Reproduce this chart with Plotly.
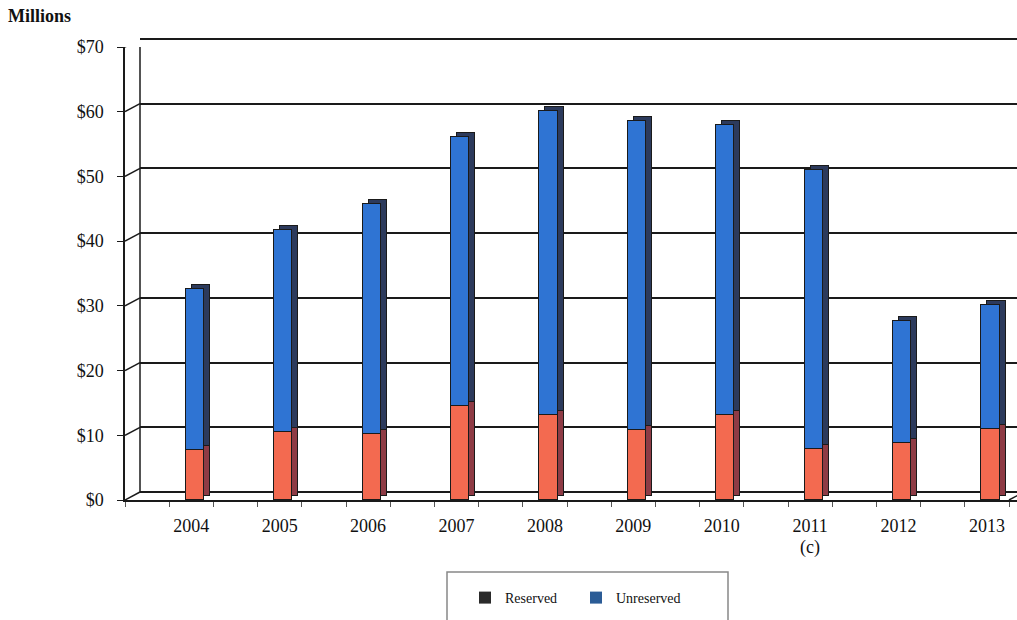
import plotly.graph_objects as go

years = ["2004", "2005", "2006", "2007", "2008", "2009", "2010", "2011", "2012", "2013"]
reserved = [7.7, 10.5, 10.2, 14.5, 13.1, 10.8, 13.1, 7.9, 8.8, 11.0]
total = [32.6, 41.7, 45.7, 56.1, 60.1, 58.6, 58.0, 51.0, 27.7, 30.1]
unreserved = [round(t - r, 1) for t, r in zip(total, reserved)]
y_ticks = [0, 10, 20, 30, 40, 50, 60, 70]
y_labels = ["$0", "$10", "$20", "$30", "$40", "$50", "$60", "$70"]

W, H = 1017, 620
ML, MR, MT, MB = 125, 0, 35, 120
PW = W - ML - MR
PH = H - MT - MB
CAT = 88.4            # px per category
PXU = 453 / 70        # px per dollar
FRONT_H = 453         # px height of front axis ($0..$70)
X0 = -0.75
X1 = X0 + PW / CAT
DEPTH_X, DEPTH_Y = 15, 8      # back wall offset
SIDE_X, SIDE_Y = 6, 4         # bar depth offset

xs = list(range(len(years)))
BAR_W = 0.205
BAR_OFF = -BAR_W / 2 + 0.04

FONT = "Liberation Serif"
LINE = "#1a1a1a"

fig = go.Figure()

# back wall subplot (x, y): invisible anchor trace
fig.add_trace(go.Scatter(x=[0], y=[0], mode="markers", marker=dict(opacity=0),
                         showlegend=False, hoverinfo="skip", xaxis="x", yaxis="y"))

# bar side faces (x2, y2)
fig.add_trace(go.Bar(x=xs, y=reserved, width=BAR_W, offset=BAR_OFF, xaxis="x2", yaxis="y2",
                     marker=dict(color="#8E3B45", line=dict(color=LINE, width=1)),
                     showlegend=False, hoverinfo="skip"))
fig.add_trace(go.Bar(x=xs, y=unreserved, width=BAR_W, offset=BAR_OFF, xaxis="x2", yaxis="y2",
                     marker=dict(color="#2C3A5C", line=dict(color=LINE, width=1)),
                     showlegend=False, hoverinfo="skip"))

# front faces (x3, y3)
fig.add_trace(go.Bar(x=xs, y=reserved, width=BAR_W, offset=BAR_OFF, xaxis="x3", yaxis="y3",
                     name="Reserved", marker=dict(color="#F36A50", line=dict(color=LINE, width=1)),
                     showlegend=False))
fig.add_trace(go.Bar(x=xs, y=unreserved, width=BAR_W, offset=BAR_OFF, xaxis="x3", yaxis="y3",
                     name="Unreserved", marker=dict(color="#2F74D3", line=dict(color=LINE, width=1)),
                     showlegend=False))

# legend entries
fig.add_trace(go.Bar(x=[None], y=[None], name="Reserved", xaxis="x3", yaxis="y3",
                     marker=dict(color="#2a2a2a")))
fig.add_trace(go.Bar(x=[None], y=[None], name="Unreserved", xaxis="x3", yaxis="y3",
                     marker=dict(color="#2B5C96")))

back_x0 = X0 + DEPTH_X / CAT
fig.update_layout(
    template="none",
    width=W, height=H,
    margin=dict(l=ML, r=MR, t=MT, b=MB, pad=0, autoexpand=False),
    paper_bgcolor="white", plot_bgcolor="rgba(0,0,0,0)",
    barmode="stack", bargap=0,
    font=dict(family=FONT, color="#111", size=18),
    xaxis=dict(domain=[DEPTH_X / PW, 1], range=[back_x0, X1], visible=False,
               automargin=False),
    yaxis=dict(domain=[DEPTH_Y / PH, 1], range=[0, (PH - DEPTH_Y) / PXU], anchor="x",
               showgrid=True, gridcolor=LINE, gridwidth=1.5, tickvals=y_ticks,
               showline=False, showticklabels=False,
               zeroline=True, zerolinecolor=LINE, zerolinewidth=1.5, ticks="",
               automargin=False),
    xaxis2=dict(domain=[SIDE_X / PW, 1], range=[X0, X1 - SIDE_X / CAT], visible=False,
                automargin=False),
    yaxis2=dict(domain=[SIDE_Y / PH, (FRONT_H + SIDE_Y) / PH], range=[0, 70], anchor="x2",
                visible=False, automargin=False),
    xaxis3=dict(domain=[0, 1], range=[X0, X1], anchor="y3", automargin=False,
                tickmode="array", tickvals=xs, ticktext=years, ticks="",
                tickfont=dict(family=FONT, size=18, color="#111"),
                ticklabelstandoff=9,
                showline=True, linecolor=LINE, linewidth=1.5, showgrid=False, zeroline=False,
                minor=dict(tickmode="array", tickvals=[X0 + 0.5 * k for k in range(21)],
                           ticks="outside", ticklen=5, tickcolor="#555", tickwidth=1,
                           showgrid=False)),
    yaxis3=dict(domain=[0, FRONT_H / PH], range=[0, 70], anchor="x3", automargin=False,
                tickmode="array", tickvals=y_ticks, ticktext=y_labels,
                ticks="outside", ticklen=6, tickcolor=LINE, tickwidth=1.2,
                ticklabelstandoff=10,
                tickfont=dict(family=FONT, size=18, color="#111"),
                showline=True, linecolor=LINE, linewidth=1.5, showgrid=False, zeroline=False),
    legend=dict(orientation="h", x=(465 - ML) / PW, xanchor="left",
                y=(H - MB - 598) / PH, yanchor="middle",
                font=dict(family=FONT, size=14, color="#111"),
                bgcolor="rgba(0,0,0,0)", borderwidth=0, itemwidth=30,
                entrywidth=66, entrywidthmode="pixels",
                traceorder="normal"),
    showlegend=True,
)

shapes = []
dy_units = DEPTH_Y / PXU
dx_units = DEPTH_X / CAT
for v in y_ticks:
    shapes.append(dict(type="line", xref="x3", yref="y3",
                       x0=X0, y0=v, x1=X0 + dx_units, y1=v + dy_units,
                       line=dict(color=LINE, width=1.5)))
# back wall left edge
shapes.append(dict(type="line", xref="x3", yref="y3",
                   x0=X0 + dx_units, y0=dy_units, x1=X0 + dx_units, y1=70 + dy_units,
                   line=dict(color=LINE, width=1.5)))
# right end of floor
shapes.append(dict(type="line", xref="x3", yref="y3",
                   x0=X0 + 20 * 0.5, y0=0, x1=X0 + 20 * 0.5 + dx_units, y1=dy_units,
                   line=dict(color=LINE, width=1.5)))
# legend box
shapes.append(dict(type="rect", xref="paper", yref="paper",
                   x0=(447 - ML) / PW, x1=(728 - ML) / PW,
                   y0=(H - MB - 572) / PH, y1=(H - MB - 640) / PH,
                   line=dict(color="#888", width=1.5), fillcolor="rgba(0,0,0,0)"))
fig.update_layout(shapes=shapes)

fig.add_annotation(text="<b>Millions</b>", xref="paper", yref="paper",
                   x=(6 - ML) / PW, y=(H - MB - 16) / PH, xanchor="left", yanchor="middle",
                   showarrow=False, font=dict(family=FONT, size=18, color="#111"))
fig.add_annotation(text="(c)", xref="x3", yref="paper", x=7, y=(H - MB - 547) / PH,
                   xanchor="center", yanchor="middle", showarrow=False,
                   font=dict(family=FONT, size=18, color="#111"))

fig.write_html("out.html", config={"displayModeBar": False},
               post_script="document.body.style.margin='0';document.body.style.overflow='hidden';")
